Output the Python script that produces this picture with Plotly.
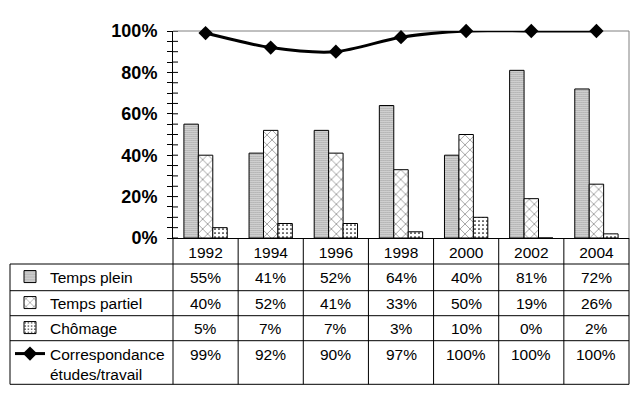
import plotly.graph_objects as go

years = ["1992", "1994", "1996", "1998", "2000", "2002", "2004"]
temps_plein = [0.55, 0.41, 0.52, 0.64, 0.40, 0.81, 0.72]
temps_partiel = [0.40, 0.52, 0.41, 0.33, 0.50, 0.19, 0.26]
chomage = [0.05, 0.07, 0.07, 0.03, 0.10, 0.00, 0.02]
correspondance = [0.99, 0.92, 0.90, 0.97, 1.00, 1.00, 1.00]

series_names = ["Temps plein", "Temps partiel", "Chômage", "Correspondance<br>études/travail"]
series_values = [temps_plein, temps_partiel, chomage, correspondance]

OFF = 8  # page body margin
W, H = 639 - OFF, 399 - OFF
L, R, T, B = 173, 629, 31, 238  # plot area pixels (reference coords)
PW, PH = R - L, B - T


def xp(px):
    return (px - L) / PW


def yp(py):
    return (B - py) / PH


FONT = "Liberation Sans, Arial, sans-serif"

patterns = [
    dict(shape=".", size=2, solidity=0.3, fgcolor="black", bgcolor="white", fillmode="replace"),
    dict(shape="x", size=7, solidity=0.1, fgcolor="black", bgcolor="white", fillmode="replace"),
    dict(shape=".", size=4, solidity=0.15, fgcolor="black", bgcolor="white", fillmode="replace"),
]

fig = go.Figure()
legends = ["legend", "legend2", "legend3", "legend4"]
for i in range(3):
    fig.add_trace(go.Bar(
        x=years, y=series_values[i], name=series_names[i],
        marker=dict(color="white", line=dict(color="black", width=1), pattern=patterns[i]),
        legend=legends[i],
    ))
fig.add_trace(go.Scatter(
    x=years, y=correspondance, name=series_names[3], mode="lines+markers",
    line=dict(color="black", width=3, shape="spline", smoothing=0.8),
    marker=dict(symbol="diamond", size=11, color="black"),
    legend=legends[3], cliponaxis=False,
))

# row boundaries (pixels)
rows_y = [238, 264, 290.7, 315.7, 340.7, 384.3]
shapes = []
# gray plot frame top/right
shapes.append(dict(type="line", xref="paper", yref="paper", x0=0, x1=1, y0=1, y1=1,
                   line=dict(color="#808080", width=1), layer="below"))
shapes.append(dict(type="line", xref="paper", yref="paper", x0=1, x1=1, y0=0, y1=1,
                   line=dict(color="#808080", width=1), layer="below"))
# tick marks crossing the y axis (inner half)
for k in range(21):
    shapes.append(dict(type="line", xref="paper", yref="y", x0=0, x1=xp(L + 5),
                       y0=k * 0.05, y1=k * 0.05, line=dict(color="black", width=1)))
# horizontal table lines
for j, ry in enumerate(rows_y[1:]):
    shapes.append(dict(type="line", xref="paper", yref="paper", x0=xp(10), x1=1,
                       y0=yp(ry), y1=yp(ry), line=dict(color="black", width=1)))
# vertical table lines
n = len(years)
for k in range(n + 1):
    shapes.append(dict(type="line", xref="paper", yref="paper", x0=k / n, x1=k / n,
                       y0=0, y1=yp(rows_y[-1]), line=dict(color="black", width=1)))
shapes.append(dict(type="line", xref="paper", yref="paper", x0=xp(10), x1=xp(10),
                   y0=yp(rows_y[1]), y1=yp(rows_y[-1]), line=dict(color="black", width=1)))

annotations = []
text_centers = [277, 303, 328, 354]
for r, vals in enumerate(series_values):
    for c, v in enumerate(vals):
        annotations.append(dict(x=c / n + 0.5 / n, y=yp(text_centers[r]), xref="paper", yref="paper",
                                text=f"{round(v * 100)}%", showarrow=False,
                                font=dict(family=FONT, size=15.5, color="black"),
                                xanchor="center", yanchor="middle"))

legend_common = dict(bgcolor="rgba(0,0,0,0)", borderwidth=0, xanchor="left", yanchor="middle",
                     font=dict(family=FONT, size=15.5, color="black"), itemclick=False)
layout_legends = {}
for r, lg in enumerate(legends):
    cfg = dict(legend_common)
    cfg.update(x=xp(10), y=yp(text_centers[r]))
    if r == 3:
        cfg.update(yanchor="top", y=yp(text_centers[r] - 17), valign="top")
    layout_legends[lg] = cfg

fig.update_layout(
    width=W, height=H,
    margin=dict(l=L - OFF, r=639 - R, t=T - OFF, b=399 - B, pad=0, autoexpand=False),
    paper_bgcolor="white", plot_bgcolor="white",
    barmode="group", bargap=0.335, bargroupgap=0,
    showlegend=True,
    font=dict(family=FONT, color="black"),
    shapes=shapes, annotations=annotations,
    xaxis=dict(type="category", showline=True, linecolor="black", linewidth=1,
               ticks="", showgrid=False, zeroline=False,
               tickfont=dict(family=FONT, size=15.5, color="black"), ticklabelstandoff=0),
    yaxis=dict(range=[0, 1], tickformat=".0%", dtick=0.2, showline=True, linecolor="black",
               linewidth=1, ticks="outside", ticklen=5, tickcolor="black", showgrid=False,
               zeroline=False, tickfont=dict(family=FONT, size=18, color="black", weight="bold"),
               minor=dict(dtick=0.05, ticks="outside", ticklen=5, tickcolor="black"),
               ticklabelstandoff=6),
    **layout_legends,
)

fig.write_html("out.html")
